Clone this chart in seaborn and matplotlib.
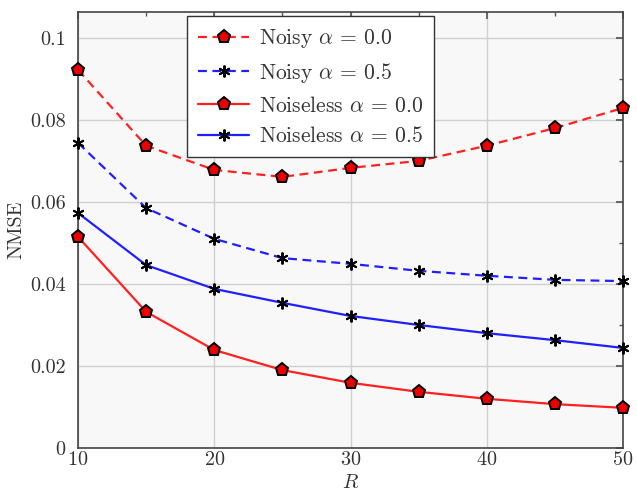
import numpy as np
import pandas as pd
import matplotlib
matplotlib.use("Agg")
import matplotlib.pyplot as plt
import seaborn as sns
from matplotlib.ticker import MultipleLocator, FuncFormatter

# ================== data ==================
R_VALUES = [10, 15, 20, 25, 30, 35, 40, 45, 50]
NOISY_A00 = [0.0922, 0.0737, 0.0678, 0.0661, 0.0683, 0.0700, 0.0737, 0.0780, 0.0829]
NOISY_A05 = [0.0744, 0.0585, 0.0510, 0.0463, 0.0449, 0.0432, 0.0420, 0.0410, 0.0407]
NOISELESS_A00 = [0.0515, 0.0332, 0.0239, 0.0190, 0.0159, 0.0137, 0.0120, 0.0107, 0.0098]
NOISELESS_A05 = [0.0573, 0.0446, 0.0388, 0.0354, 0.0322, 0.0300, 0.0280, 0.0263, 0.0244]
LABELS = [r"Noisy $\alpha$ = 0.0", r"Noisy $\alpha$ = 0.5",
          r"Noiseless $\alpha$ = 0.0", r"Noiseless $\alpha$ = 0.5"]
# ==========================================

series = [NOISY_A00, NOISY_A05, NOISELESS_A00, NOISELESS_A05]
rows = []
for lab, vals in zip(LABELS, series):
    for r, v in zip(R_VALUES, vals):
        rows.append({"R": r, "NMSE": v, "Curve": lab})
df = pd.DataFrame(rows)

sns.set_theme(style="whitegrid")
plt.rcParams["font.family"] = ["cmr10", "DejaVu Serif"]
plt.rcParams["mathtext.fontset"] = "cm"
plt.rcParams["axes.formatter.use_mathtext"] = True

fig = plt.figure(figsize=(6.37, 4.92), dpi=100)
ax = fig.add_axes([0.1225, 0.0894, 0.8555, 0.8862])
ax.set_facecolor("#f8f8f8")

asterisk = (6, 2, 0)
styles = {
    LABELS[0]: dict(color="#ff2020", ls=(0, (4, 2.5)), marker="p", mfc="#ee0000", ms=9.5),
    LABELS[1]: dict(color="#2020ff", ls=(0, (4, 2.5)), marker=asterisk, mfc="black", ms=8.5),
    LABELS[2]: dict(color="#ff2020", ls="-", marker="p", mfc="#ee0000", ms=9.5),
    LABELS[3]: dict(color="#2020ff", ls="-", marker=asterisk, mfc="black", ms=8.5),
}

for lab in LABELS:
    st = styles[lab]
    sub = df[df["Curve"] == lab]
    sns.lineplot(data=sub, x="R", y="NMSE", ax=ax, label=lab,
                 color=st["color"], linestyle=st["ls"], linewidth=1.6,
                 marker=st["marker"], markersize=st["ms"],
                 markerfacecolor=st["mfc"], markeredgecolor="black",
                 markeredgewidth=1.4, clip_on=False, zorder=3)

ax.set_xlim(10, 50)
ax.set_ylim(0, 0.1063)
ax.xaxis.set_major_locator(MultipleLocator(10))
ax.xaxis.set_minor_locator(MultipleLocator(5))
ax.yaxis.set_major_locator(MultipleLocator(0.02))
ax.yaxis.set_minor_locator(MultipleLocator(0.01))
ax.yaxis.set_major_formatter(FuncFormatter(lambda v, p: "%g" % round(v, 4)))
ax.tick_params(which="both", direction="in", top=True, right=True,
               labelsize=14.5, color="#555555", labelcolor="#333333")
ax.tick_params(which="major", length=5)
ax.tick_params(which="minor", length=3)
ax.tick_params(axis="y", which="major", pad=9)
ax.tick_params(axis="x", which="major", pad=2)
ax.grid(True, which="major", color="#d0d0d0", linewidth=1.0)
ax.grid(False, which="minor")
for sp in ax.spines.values():
    sp.set_color("#444444")
    sp.set_linewidth(1.2)

ax.set_xlabel(r"$R$", fontsize=14.5, labelpad=4, color="#333333")
ax.set_ylabel("NMSE", fontsize=14.5, labelpad=3, color="#333333")

leg = ax.legend(loc="upper left", bbox_to_anchor=(0.2, 0.99), fontsize=15.5,
                frameon=True, fancybox=False, handlelength=2.4,
                handletextpad=0.45, borderpad=0.5, labelspacing=0.5,
                borderaxespad=0)
leg.get_frame().set_edgecolor("#333333")
leg.get_frame().set_linewidth(1.0)
leg.get_frame().set_facecolor("white")
leg.get_frame().set_alpha(1)
for t in leg.get_texts():
    t.set_color("#333333")

fig.savefig("out.png", dpi=100)
